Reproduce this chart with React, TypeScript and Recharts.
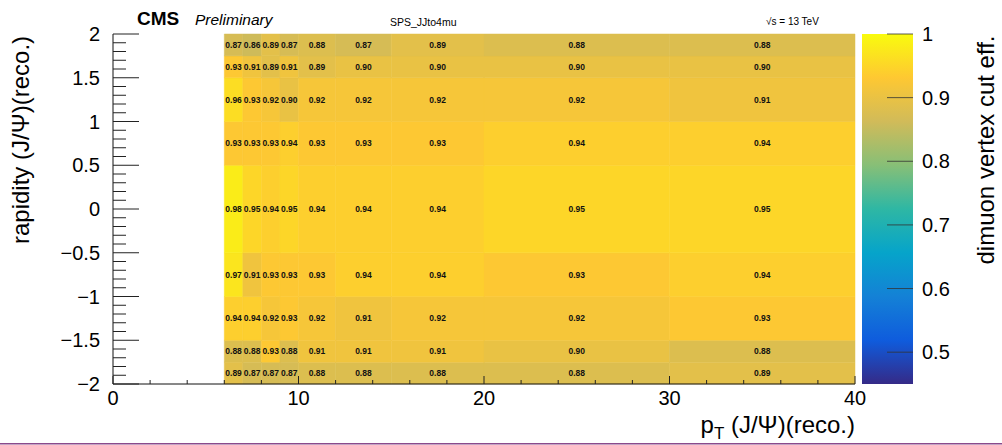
import { ComposedChart, ReferenceArea, Scatter, XAxis, YAxis } from "recharts";

// bin edges of the 2D histogram
const ptEdges = [6, 7, 8, 9, 10, 12, 15, 20, 30, 40];
const rapidityEdges = [-2, -1.75, -1.5, -1, -0.5, 0.5, 1, 1.5, 1.75, 2];

// efficiency per rapidity bin (bottom to top), one value per pT bin
const effRapM200 = [0.89, 0.87, 0.87, 0.87, 0.88, 0.88, 0.88, 0.88, 0.89];
const effRapM175 = [0.88, 0.88, 0.93, 0.88, 0.91, 0.91, 0.91, 0.9, 0.88];
const effRapM150 = [0.94, 0.94, 0.92, 0.93, 0.92, 0.91, 0.92, 0.92, 0.93];
const effRapM100 = [0.97, 0.91, 0.93, 0.93, 0.93, 0.94, 0.94, 0.93, 0.94];
const effRapM050 = [0.98, 0.95, 0.94, 0.95, 0.94, 0.94, 0.94, 0.95, 0.95];
const effRapP050 = [0.93, 0.93, 0.93, 0.94, 0.93, 0.93, 0.93, 0.94, 0.94];
const effRapP100 = [0.96, 0.93, 0.92, 0.9, 0.92, 0.92, 0.92, 0.92, 0.91];
const effRapP150 = [0.93, 0.91, 0.89, 0.91, 0.89, 0.9, 0.9, 0.9, 0.9];
const effRapP175 = [0.87, 0.86, 0.89, 0.87, 0.88, 0.87, 0.89, 0.88, 0.88];
const effRows = [
  effRapM200,
  effRapM175,
  effRapM150,
  effRapM100,
  effRapM050,
  effRapP050,
  effRapP100,
  effRapP150,
  effRapP175,
];

const xMajorTicks = [0, 10, 20, 30, 40];
const yMajorTicks = [-2, -1.5, -1, -0.5, 0, 0.5, 1, 1.5, 2];
const zTicks = [0.5, 0.6, 0.7, 0.8, 0.9, 1];
const zMin = 0.45;
const zMax = 1;

// ROOT kBird palette
const birdR = [0.2082, 0.0592, 0.078, 0.0232, 0.1802, 0.5301, 0.8186, 0.9956, 0.9764];
const birdG = [0.1664, 0.3599, 0.5041, 0.6419, 0.7178, 0.7492, 0.7328, 0.7862, 0.9832];
const birdB = [0.5293, 0.8684, 0.8385, 0.7914, 0.6425, 0.4662, 0.3499, 0.1968, 0.0539];

function toHex(r: number, g: number, b: number) {
  const h = (c: number) =>
    Math.round(c * 255)
      .toString(16)
      .padStart(2, "0");
  return `#${h(r)}${h(g)}${h(b)}`;
}

function birdColor(v: number) {
  const t = Math.max(0, Math.min(1, (v - zMin) / (zMax - zMin))) * 8;
  const i = Math.min(7, Math.floor(t));
  const f = t - i;
  const mix = (a: number[]) => a[i] + (a[i + 1] - a[i]) * f;
  return toHex(mix(birdR), mix(birdG), mix(birdB));
}

function withMinor(majors: number[], n: number) {
  const out: number[] = [];
  for (let k = 0; k < majors.length - 1; k++) {
    const step = (majors[k + 1] - majors[k]) / n;
    for (let s = 0; s < n; s++) out.push(+(majors[k] + s * step).toFixed(4));
  }
  out.push(majors[majors.length - 1]);
  return out;
}

const xTicks = withMinor(xMajorTicks, 5);
const yTicks = withMinor(yMajorTicks, 5);

const cells = effRows.flatMap((row, j) =>
  row.map((v, i) => ({
    x1: ptEdges[i],
    x2: ptEdges[i + 1],
    y1: rapidityEdges[j],
    y2: rapidityEdges[j + 1],
    x: (ptEdges[i] + ptEdges[i + 1]) / 2,
    y: (rapidityEdges[j] + rapidityEdges[j + 1]) / 2,
    v,
  }))
);

const zBar = [{ name: "z", range: [zMin, zMax] }];

const font = "'Liberation Sans', Arial, Helvetica, sans-serif";
const tickColor = "#222";
const frame = { stroke: "#111", strokeWidth: 1 };

const isMajor = (list: number[], v: number) =>
  list.some((m) => Math.abs(m - v) < 1e-6);

const fmt = (v: number) => (v < 0 ? `\u2212${Math.abs(v)}` : `${v}`);

function BottomTick(props: any) {
  const { x, y, payload } = props;
  const major = isMajor(xMajorTicks, payload.value);
  return (
    <g>
      <line x1={x} y1={y} x2={x} y2={y - (major ? 8 : 4)} stroke={tickColor} />
      {major && (
        <text x={x} y={y + 21} textAnchor="middle" fontSize={20} fontFamily={font} fill="#000">
          {payload.value}
        </text>
      )}
    </g>
  );
}

function TopTick(props: any) {
  const { x, y, payload } = props;
  const major = isMajor(xMajorTicks, payload.value);
  return <line x1={x} y1={y} x2={x} y2={y + (major ? 8 : 4)} stroke={tickColor} />;
}

function LeftTick(props: any) {
  const { x, y, payload } = props;
  const major = isMajor(yMajorTicks, payload.value);
  return (
    <g>
      <line x1={x} y1={y} x2={x + (major ? 26 : 13)} y2={y} stroke={tickColor} />
      {major && (
        <text x={100} y={y + 7} textAnchor="end" fontSize={20} fontFamily={font} fill="#000">
          {fmt(payload.value)}
        </text>
      )}
    </g>
  );
}

function RightTick(props: any) {
  const { x, y, payload } = props;
  const major = isMajor(yMajorTicks, payload.value);
  return <line x1={x} y1={y} x2={x - (major ? 26 : 13)} y2={y} stroke={tickColor} />;
}

function ZTick(props: any) {
  const { x, y, payload } = props;
  return (
    <g>
      <line x1={x} y1={y} x2={x - 26} y2={y} stroke="#333" strokeOpacity={0.8} />
      <text x={x + 9} y={y + 7} fontSize={20} fontFamily={font} fill="#000">
        {payload.value}
      </text>
    </g>
  );
}

function CellLabel(props: any) {
  const { cx, cy, payload } = props;
  return (
    <text
      x={cx}
      y={cy + 3}
      textAnchor="middle"
      fontSize={8.5}
      fontWeight="bold"
      fontFamily={font}
      fill="#111"
    >
      {payload.v.toFixed(2)}
    </text>
  );
}

function Heatmap() {
  return (
    <ComposedChart
      width={1002}
      height={445}
      data={cells}
      margin={{ top: 34, right: 147, bottom: 0, left: 0 }}
    >
      {cells.map((c, idx) => (
        <ReferenceArea
          key={idx}
          x1={c.x1}
          x2={c.x2}
          y1={c.y1}
          y2={c.y2}
          fill={birdColor(c.v)}
          fillOpacity={1}
          stroke={birdColor(c.v)}
          strokeWidth={0.5}
          ifOverflow="visible"
        />
      ))}
      <Scatter dataKey="y" data={cells} shape={CellLabel} isAnimationActive={false} />
      <XAxis
        type="number"
        dataKey="x"
        domain={[0, 40]}
        ticks={xTicks}
        interval={0}
        allowDataOverflow
        tickSize={0}
        tickMargin={0}
        axisLine={frame}
        tickLine={false}
        tick={BottomTick}
        height={61}
      />
      <XAxis
        xAxisId="top"
        orientation="top"
        type="number"
        dataKey="x"
        domain={[0, 40]}
        ticks={xTicks}
        interval={0}
        allowDataOverflow
        tickSize={0}
        tickMargin={0}
        axisLine={frame}
        tickLine={false}
        tick={TopTick}
        height={0}
      />
      <YAxis
        type="number"
        dataKey="y"
        domain={[-2, 2]}
        ticks={yTicks}
        interval={0}
        allowDataOverflow
        tickSize={0}
        tickMargin={0}
        axisLine={frame}
        tickLine={false}
        tick={LeftTick}
        width={113}
      />
      <YAxis
        yAxisId="right"
        orientation="right"
        type="number"
        dataKey="y"
        domain={[-2, 2]}
        ticks={yTicks}
        interval={0}
        allowDataOverflow
        tickSize={0}
        tickMargin={0}
        axisLine={frame}
        tickLine={false}
        tick={RightTick}
        width={0}
      />
    </ComposedChart>
  );
}

function ColorBar() {
  return (
    <ComposedChart
      width={140}
      height={445}
      data={zBar}
      barCategoryGap={0}
      margin={{ top: 34, right: 0, bottom: 61, left: 0 }}
    >
      <XAxis dataKey="name" type="category" hide />
      <YAxis
        orientation="right"
        type="number"
        domain={[zMin, zMax]}
        ticks={zTicks}
        interval={0}
        allowDataOverflow
        tickSize={0}
        tickMargin={0}
        axisLine={false}
        tickLine={false}
        tick={ZTick}
        width={89}
      />
      <ReferenceArea y1={zMin} y2={zMax} fill="url(#bird)" fillOpacity={1} ifOverflow="visible" />
    </ComposedChart>
  );
}

function Gradient() {
  return (
    <svg width={0} height={0} style={{ position: "absolute" }}>
      <defs>
        <linearGradient id="bird" x1="0" y1="1" x2="0" y2="0">
          {birdR.map((r, k) => (
            <stop key={k} offset={k / 8} stopColor={toHex(r, birdG[k], birdB[k])} />
          ))}
        </linearGradient>
      </defs>
    </svg>
  );
}

function Titles() {
  return (
    <svg
      width={1002}
      height={445}
      style={{ position: "absolute", left: 0, top: 0, pointerEvents: "none" }}
      fontFamily={font}
    >
      <text x={137} y={25} fontSize={19} fontWeight="bold">
        CMS
      </text>
      <text x={195} y={25} fontSize={15.5} fontStyle="italic">
        Preliminary
      </text>
      <text x={390} y={26} fontSize={10.5}>
        SPS_JJto4mu
      </text>
      <text x={766} y={25} fontSize={10}>
        √s = 13 TeV
      </text>
      <text x={855} y={433} fontSize={24} textAnchor="end">
        <tspan>p</tspan>
        <tspan dy={6} fontSize={17}>
          T
        </tspan>
        <tspan dy={-6}> (J/Ψ)(reco.)</tspan>
      </text>
      <text transform="translate(29,140) rotate(-90)" fontSize={24} textAnchor="middle">
        rapidity (J/Ψ)(reco.)
      </text>
      <text transform="translate(994,150) rotate(-90)" fontSize={24} textAnchor="middle">
        dimuon vertex cut eff.
      </text>
      <rect x={0} y={443} width={1002} height={1.5} fill="#8a4a8c" />
    </svg>
  );
}

export default function App() {
  return (
    <div style={{ position: "absolute", left: 0, top: 0, width: 1002, height: 445, background: "#fff" }}>
      <Gradient />
      <div style={{ position: "absolute", left: 0, top: 0 }}>
        <Heatmap />
      </div>
      <div style={{ position: "absolute", left: 862, top: 0 }}>
        <ColorBar />
      </div>
      <Titles />
    </div>
  );
}
